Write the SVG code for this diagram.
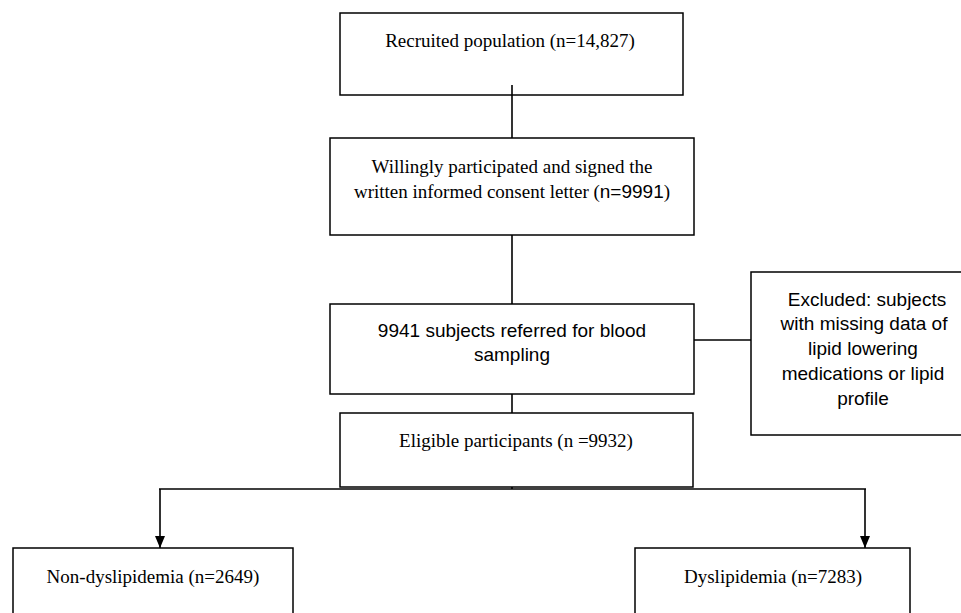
<svg xmlns="http://www.w3.org/2000/svg" width="961" height="613" viewBox="0 0 961 613">
<defs>
<style>
.box{fill:#fff;stroke:#000;stroke-width:1.5}
.ser{font-family:"Liberation Serif","Times New Roman",serif;font-size:19px;fill:#000;text-anchor:middle}
.san{font-family:"Liberation Sans",Arial,sans-serif;font-size:19px;fill:#000;text-anchor:middle}
.ln{stroke:#000;stroke-width:1.6;fill:none}
</style>
<marker id="ah" markerWidth="12" markerHeight="10" refX="12" refY="5" orient="auto" markerUnits="userSpaceOnUse" viewBox="0 0 12 10">
<path d="M0,0 L12,5 L0,10 Z" fill="#000"/>
</marker>
</defs>
<rect width="961" height="613" fill="#fff"/>
<g id="n1"><rect class="box" x="340" y="13" width="343" height="82"/>
<text class="ser" x="510" y="47">Recruited population (n=14,827)</text></g>
<g id="n2"><rect class="box" x="330" y="138" width="364" height="97"/>
<text class="ser" x="512" y="173">Willingly participated and signed the</text>
<text class="ser" x="512" y="198">written informed consent letter (<tspan font-family="Liberation Sans, Arial, sans-serif">n=9991</tspan>)</text></g>
<g id="n3"><rect class="box" x="330" y="304" width="364" height="90"/>
<text class="san" x="512" y="337">9941 subjects referred for blood</text>
<text class="san" x="512" y="361">sampling</text></g>
<g id="n4"><rect class="box" x="751" y="272" width="224" height="163"/>
<text class="san" x="867" y="306">Excluded: subjects</text>
<text class="san" x="864" y="330">with missing data of</text>
<text class="san" x="863" y="355">lipid lowering</text>
<text class="san" x="863" y="380">medications or lipid</text>
<text class="san" x="863" y="405">profile</text></g>
<g id="n5"><rect class="box" x="340" y="413" width="353" height="74"/>
<text class="ser" x="516" y="447">Eligible participants (n =9932)</text></g>
<g id="n6"><rect class="box" x="13" y="548" width="280" height="70"/>
<text class="ser" x="153" y="583">Non-dyslipidemia (n=2649)</text></g>
<g id="n7"><rect class="box" x="635" y="548" width="275" height="70"/>
<text class="ser" x="773" y="583">Dyslipidemia (n=7283)</text></g>
<g id="connectors">
<line class="ln" x1="512" y1="85" x2="512" y2="138"/>
<line class="ln" x1="512" y1="235" x2="512" y2="304"/>
<line class="ln" x1="512" y1="394" x2="512" y2="413"/>
<line class="ln" x1="694" y1="340" x2="751" y2="340"/>
<line class="ln" x1="512" y1="487" x2="512" y2="489"/>
<line class="ln" x1="159" y1="489" x2="866" y2="489"/>
<line class="ln" x1="160" y1="489" x2="160" y2="548" marker-end="url(#ah)"/>
<line class="ln" x1="865" y1="489" x2="865" y2="548" marker-end="url(#ah)"/>
</g>
</svg>
